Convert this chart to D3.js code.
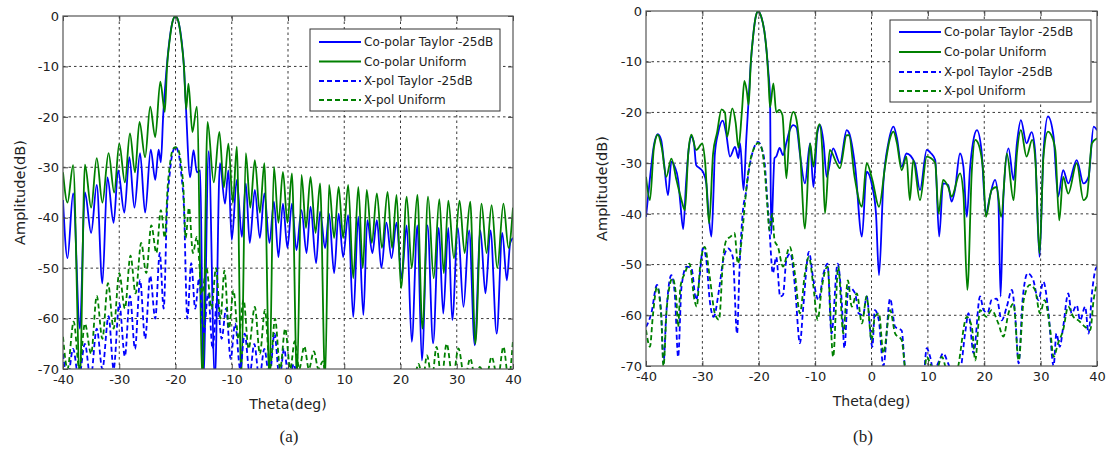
<!DOCTYPE html>
<html>
<head>
<meta charset="utf-8">
<script src="https://cdn.jsdelivr.net/npm/d3@7"></script>
<style>
    body { margin: 0; background: #fff; }
    svg { display: block; }
    text { font-family: "DejaVu Sans", sans-serif; fill: #222; }
</style>
</head>
<body>
<svg id="chart" width="1107" height="451"></svg>
<script>
// ---- data: [theta (deg), amplitude (dB)] ----

const thetaTicks = [-40, -30, -20, -10, 0, 10, 20, 30, 40];
const ampTicks = [0, -10, -20, -30, -40, -50, -60, -70];
const legendLabels = ['Co-polar Taylor -25dB', 'Co-polar Uniform', 'X-pol Taylor -25dB', 'X-pol Uniform'];

// panel (a)
const aCoTaylor = [
    [-40, -36.5], [-39.2, -48], [-38.2, -35.2], [-37.0, -62], [-36.1, -35], [-35.0, -43], [-34.0, -33.5],
    [-33.0, -53], [-32.1, -32], [-31.0, -41], [-30.2, -30.6], [-29.1, -39], [-28.2, -28], [-27.3, -38],
    [-26.3, -27.2], [-25.4, -39], [-24.4, -26.5], [-23.6, -32.5], [-23.0, -26.5], [-22.6, -29], [-22.2, -20],
    [-21.7, -12], [-21.2, -6], [-20.7, -2], [-20.0, 0], [-19.4, -1.5], [-18.9, -5], [-18.5, -10],
    [-18.2, -16.7], [-17.4, -32], [-16.8, -26.6], [-16.2, -31], [-15.6, -30.6], [-15.05, -72], [-14.1, -26.8],
    [-13.0, -72], [-12.1, -29.2], [-11.2, -37.2], [-10.6, -30.6], [-10.0, -44.4], [-9.1, -32.5], [-8.2, -43.8],
    [-7.5, -33.2], [-6.8, -45], [-5.9, -34.5], [-5.0, -44], [-4.2, -35.2], [-3.3, -45], [-2.5, -36.8],
    [-1.7, -47.8], [-0.9, -37.2], [-0.1, -46], [0.7, -37.2], [1.5, -46.4], [2.4, -38.5], [3.3, -47],
    [4.0, -37.8], [5.0, -49], [5.7, -38.8], [6.6, -46], [7.3, -39.2], [8.2, -51], [9.0, -39.2], [9.8, -47.8],
    [10.7, -39.5], [11.6, -59.7], [12.5, -39.8], [13.4, -59.3], [14.1, -40.5], [15.0, -47], [15.8, -40.5],
    [16.6, -50], [17.5, -41], [18.4, -48], [19.3, -41], [20.2, -52], [21.1, -41.5], [22.0, -64.6],
    [23.0, -41.5], [23.8, -68.3], [24.8, -41.5], [25.8, -64.9], [26.8, -42], [27.6, -59], [28.5, -42],
    [29.2, -60.3], [30.2, -42], [31.2, -57.7], [32.2, -42.5], [33.2, -65.3], [34.2, -42.5], [35.1, -55],
    [36.0, -42.5], [37.1, -63], [38.1, -43], [38.9, -52.4], [39.5, -45], [40, -44]
];
const aCoUniform = [
    [-40, -31], [-39.2, -37], [-38.2, -29.6], [-37.0, -72], [-36.1, -29.5], [-35.0, -38], [-34.0, -28.2],
    [-33.0, -37], [-31.9, -27.2], [-30.9, -35], [-30.0, -25.3], [-29.0, -33], [-28.1, -23.3], [-27.2, -31],
    [-26.4, -21], [-25.4, -28], [-24.5, -18], [-23.6, -24], [-22.7, -13], [-21.9, -19], [-21.5, -10],
    [-21.0, -4.5], [-20.5, -1], [-20.0, 0], [-19.5, -1], [-19.0, -4.5], [-18.5, -10], [-18.1, -18.5],
    [-17.7, -13.4], [-17.0, -23], [-16.2, -18], [-15.2, -72], [-14.3, -21], [-13.2, -33], [-12.2, -23],
    [-11.4, -34], [-10.6, -25.3], [-9.8, -37], [-9.1, -25.9], [-8.3, -72], [-7.5, -27.2], [-6.7, -38],
    [-5.9, -28.6], [-5.0, -39], [-4.2, -29.2], [-3.3, -72], [-2.5, -29.9], [-1.7, -41], [-0.9, -30.9],
    [-0.1, -41], [0.7, -31.2], [1.6, -72], [2.4, -31.5], [3.2, -42], [4.0, -31.9], [4.9, -43], [5.7, -33.2],
    [6.6, -72], [7.3, -33.5], [8.2, -44], [9.0, -33.9], [9.8, -44], [10.7, -33.5], [11.6, -52], [12.5, -33.9],
    [13.3, -50], [14.0, -34.5], [14.9, -45], [15.8, -35.2], [16.7, -46], [17.7, -34.9], [18.5, -46],
    [19.3, -35.5], [20.1, -54], [21.1, -35.8], [22.0, -50], [23.0, -35.5], [23.9, -62], [24.9, -35.8],
    [25.9, -52], [26.9, -36.3], [27.7, -51], [28.5, -36.6], [29.5, -48], [30.5, -36.6], [31.4, -47],
    [32.4, -36.8], [33.3, -65], [34.4, -37.2], [35.3, -47], [36.2, -37.5], [37.2, -50], [38.3, -37.2],
    [39.2, -46], [40, -38]
];
const aXTaylor = [
    [-40, -67], [-39.2, -72], [-38.2, -66], [-37.2, -72], [-36.1, -65], [-35.1, -72], [-34.0, -62],
    [-33.0, -70], [-31.9, -59.5], [-31.0, -70], [-30.0, -57], [-29.0, -67.5], [-28.1, -55.5], [-27.2, -66],
    [-26.3, -52.4], [-25.4, -64], [-24.5, -51.5], [-23.6, -60], [-22.8, -47], [-22.1, -58], [-21.5, -38],
    [-21.0, -31], [-20.5, -27], [-20.0, -26], [-19.5, -27], [-19.0, -31], [-18.5, -38], [-17.9, -60],
    [-17.2, -49], [-16.5, -58], [-15.8, -52], [-15.0, -63], [-14.2, -55], [-13.4, -66], [-12.6, -56],
    [-11.8, -64], [-11.0, -58], [-10.2, -68], [-9.4, -61], [-8.5, -70], [-7.7, -63], [-6.8, -71],
    [-6.0, -65], [-5.1, -72], [-4.2, -66], [-3.3, -72], [-2.4, -63], [-1.5, -72], [-0.7, -66], [0.2, -73],
    [1.0, -69], [2.0, -75], [5.0, -80], [40, -80]
];
const aXUniform = [
    [-40, -63.6], [-39.2, -70], [-38.1, -60.6], [-37.1, -70], [-36.1, -61], [-35.0, -67], [-34.0, -55.5],
    [-33.0, -64], [-32.0, -53], [-31.0, -62], [-30.0, -51], [-29.0, -58], [-28.0, -47.5], [-27.1, -55],
    [-26.1, -45], [-25.2, -51], [-24.3, -41.5], [-23.4, -47], [-22.6, -38.5], [-21.9, -44], [-21.4, -34],
    [-21.0, -29.5], [-20.5, -26.5], [-20.0, -26], [-19.5, -26.5], [-19.0, -29.5], [-18.6, -34], [-18.2, -44],
    [-17.6, -38], [-16.9, -47], [-16.2, -43.8], [-15.3, -55], [-14.5, -50], [-13.6, -58], [-12.8, -50],
    [-12.0, -60], [-11.3, -50.5], [-10.5, -62], [-9.7, -54.4], [-8.8, -64], [-7.9, -56.3], [-7.0, -66],
    [-5.9, -57.7], [-5.0, -67], [-4.1, -58.3], [-3.2, -70], [-2.3, -60], [-1.4, -70], [-0.5, -62],
    [0.4, -70], [1.2, -64.5], [2.0, -70], [2.9, -65.5], [3.7, -70], [4.6, -66.5], [5.4, -70], [6.2, -68.5],
    [7.0, -75], [10, -80], [20, -80], [22.5, -72], [23.2, -69], [24.0, -72], [24.7, -67.3], [25.6, -72],
    [26.4, -65.6], [27.3, -72], [28.2, -65], [29.3, -72], [30.3, -65.9], [31.4, -72], [32.4, -67.9],
    [33.3, -72], [34.1, -69.6], [35.2, -72], [36.2, -67.6], [37.3, -72], [38.3, -65.6], [39.2, -72],
    [40, -64.3]
];

// panel (b)
const bCoTaylor = [
    [-40, -40.6], [-39.3, -33], [-38.6, -26.5], [-37.9, -24.3], [-37.3, -25.5], [-36.8, -30], [-36.1, -36.3],
    [-35.5, -29.7], [-34.9, -30.7], [-34.3, -33.3], [-33.9, -38], [-33.4, -43], [-32.9, -34], [-32.4, -27],
    [-31.95, -24.8], [-31.5, -26], [-31.1, -30.4], [-30.5, -31], [-29.9, -31.7], [-29.3, -34], [-28.9, -40],
    [-28.4, -44.5], [-28.0, -35], [-27.8, -28.4], [-27.2, -24], [-26.4, -21.6], [-25.8, -24], [-25.1, -28.7],
    [-24.2, -26.8], [-23.6, -29], [-23.3, -26.1], [-22.7, -35.3], [-22.2, -25], [-21.8, -17.6], [-21.4, -10],
    [-21.0, -5], [-20.6, -1.5], [-20.1, 0], [-19.6, -1], [-19.0, -4], [-18.6, -8], [-18.3, -12], [-18.0, -17],
    [-17.8, -44], [-17.2, -29], [-16.9, -28.7], [-16.3, -27], [-15.7, -28.4], [-15.1, -26], [-14.5, -23.5],
    [-13.85, -22.5], [-13.3, -23], [-12.7, -28.1], [-11.8, -34], [-10.9, -26.1], [-10.3, -34.7], [-9.6, -24],
    [-9.1, -22.5], [-8.5, -26], [-7.95, -32.7], [-6.8, -27.1], [-5.6, -30], [-4.4, -23.5], [-4.0, -24],
    [-2.9, -30.7], [-1.7, -44.5], [-0.86, -31.7], [0.15, -34.7], [0.8, -40], [1.33, -52.1], [2.1, -34],
    [3.0, -26], [3.9, -22.8], [4.5, -25], [5.35, -30.7], [6.2, -28.1], [7.7, -30], [8.6, -35.3], [9.8, -27.4],
    [10.5, -28], [11.3, -29.4], [12.0, -44.5], [12.7, -34], [13.6, -34.3], [14.2, -37.6], [14.8, -35.3],
    [15.7, -28.1], [16.3, -30.7], [16.9, -40.6], [17.5, -30.7], [18.0, -26], [18.7, -23.5], [19.5, -27.4],
    [20.3, -39.9], [21.0, -36.6], [21.9, -33.3], [22.5, -37.3], [22.9, -56.3], [23.4, -36.6], [24.3, -27.1],
    [25.2, -33.3], [25.8, -26], [26.5, -21.5], [27.5, -26.1], [28.4, -23.9], [29.0, -27.4], [29.8, -48.5],
    [30.5, -28.1], [31.3, -20.8], [32.3, -24.8], [33.1, -36.6], [34.0, -31.4], [34.9, -34], [36.4, -29.4],
    [37.6, -34], [38.5, -32.7], [39.4, -22.8], [40, -23.5]
];
const bCoUniform = [
    [-40, -32.7], [-39.3, -37.3], [-38.6, -27], [-37.9, -24.4], [-37.2, -27], [-36.4, -32.7], [-35.5, -29.1],
    [-34.6, -33.3], [-33.7, -37.3], [-33.1, -39.3], [-32.5, -28], [-31.95, -24.4], [-31.1, -27.4],
    [-30.0, -26.1], [-29.5, -30], [-28.8, -41.9], [-28.1, -28.1], [-27.4, -24], [-26.6, -19.4], [-26.0, -20],
    [-25.6, -24.8], [-24.7, -19.2], [-24.1, -22], [-23.6, -27], [-23.0, -20], [-22.55, -13.8], [-22.1, -16],
    [-21.8, -18.5], [-21.4, -10], [-21.0, -5], [-20.6, -1.5], [-20.1, 0], [-19.6, -1], [-19.0, -4],
    [-18.6, -8], [-18.3, -13], [-18.0, -19], [-17.4, -14.3], [-16.9, -20], [-16.4, -19.5], [-15.8, -20.5],
    [-15.1, -33], [-14.5, -23], [-13.85, -19.9], [-13.3, -21.5], [-12.7, -27.4], [-11.8, -42.9],
    [-10.9, -26.1], [-10.3, -30.7], [-9.6, -23.5], [-9.2, -22.3], [-8.7, -28], [-8.25, -39.9], [-7.4, -27.4],
    [-6.2, -30], [-5.6, -31], [-4.4, -24.5], [-4.0, -24.5], [-3.0, -32.7], [-1.7, -38.6], [-0.86, -30],
    [0.15, -33.3], [1.33, -38.6], [2.4, -30.7], [3.2, -25.5], [3.9, -23.8], [4.5, -26], [5.35, -31.4],
    [6.2, -28.7], [6.8, -37.3], [7.4, -29.4], [8.6, -37.3], [9.8, -28.7], [10.5, -29], [11.3, -30],
    [11.9, -39.9], [12.7, -33.3], [13.6, -34.7], [14.2, -36.6], [15.7, -32], [16.3, -36], [17.0, -55],
    [17.8, -31.4], [18.4, -25.4], [18.8, -25.8], [19.8, -31.4], [20.3, -40.6], [21.3, -35.3], [22.2, -34.7],
    [23.0, -40.6], [24.0, -28.1], [25.2, -37.3], [25.8, -28], [26.5, -23.5], [27.5, -28.7], [28.5, -25.4],
    [29.1, -30], [29.8, -47.8], [30.5, -28.7], [31.3, -23.8], [31.7, -24.1], [32.6, -27.4], [33.3, -41.3],
    [34.0, -32.7], [34.9, -36], [36.4, -30], [37.6, -37.3], [38.2, -36.6], [39.1, -26.1], [40, -25.1]
];
const bXTaylor = [
    [-40, -62.3], [-39.05, -59.6], [-38.05, -54.0], [-37.3, -59.6], [-36.9, -69.5], [-36.4, -59.6],
    [-35.5, -52.1], [-34.9, -55.7], [-34.3, -68.2], [-33.7, -54.4], [-32.8, -50.4], [-31.95, -50.7],
    [-31.1, -57], [-30.5, -52.4], [-29.9, -46.8], [-29.3, -49.1], [-28.7, -57], [-28.0, -60.3], [-27.05, -55],
    [-26.3, -49.1], [-25.45, -46.8], [-24.6, -48.5], [-23.85, -63.6], [-23.4, -50.4], [-22.8, -39.3],
    [-22.3, -36], [-21.7, -31], [-21.0, -27.5], [-20.1, -25.8], [-19.5, -27], [-18.95, -30], [-18.5, -37],
    [-18.1, -43.2], [-17.5, -51.7], [-16.9, -48.5], [-16.2, -56.3], [-15.7, -56], [-15.1, -49.1],
    [-14.4, -47.8], [-13.57, -54.4], [-12.7, -65.5], [-12.1, -58.3], [-11.1, -47.5], [-10.3, -53.1],
    [-9.4, -57], [-8.5, -51.7], [-7.8, -49.8], [-7.1, -63.6], [-6.0, -49.8], [-5.3, -57], [-4.8, -66.5],
    [-4.1, -54.4], [-2.9, -55.7], [-2.3, -59.6], [-1.5, -60], [-0.86, -56.3], [0.15, -66.2], [0.6, -59],
    [1.3, -61], [2.1, -70], [3.3, -56.7], [4.2, -62.3], [5.35, -63], [5.9, -70], [6.5, -75], [9.0, -75],
    [9.8, -66.5], [10.4, -68.2], [11.0, -71], [12.0, -69], [12.7, -67.5], [13.6, -69.5], [14.5, -72],
    [15.7, -71], [16.6, -63.6], [17.2, -59.6], [18.1, -67.5], [19.25, -56.3], [19.9, -59], [20.6, -59.5],
    [21.3, -57], [22.2, -56.7], [23.1, -61], [24.0, -58.3], [24.9, -55], [25.5, -60.3], [26.1, -69.5],
    [26.8, -57], [27.7, -51.7], [28.7, -53.1], [29.6, -57], [30.5, -53.4], [31.4, -59.6], [32.3, -70],
    [32.8, -63.6], [33.4, -66.2], [34.0, -62.3], [34.9, -55.7], [35.5, -59.6], [36.4, -58], [37.0, -61],
    [37.9, -58.3], [38.5, -63.6], [39.1, -55.7], [39.7, -51.1], [40, -50.4]
];
const bXUniform = [
    [-40, -62.9], [-39.3, -66.2], [-38.8, -60.3], [-38.05, -54.4], [-37.3, -60.3], [-36.9, -70],
    [-36.3, -58.3], [-35.3, -52.7], [-34.6, -57], [-34.3, -62.3], [-33.9, -54.4], [-33.1, -51.7],
    [-32.3, -49.8], [-31.4, -57], [-31.0, -58.3], [-30.4, -50.4], [-29.6, -46.5], [-28.7, -52.4],
    [-27.8, -59.6], [-27.05, -60.9], [-26.3, -48.5], [-25.75, -45.2], [-25.0, -44.5], [-24.3, -43.8],
    [-23.7, -49.8], [-23.1, -45.8], [-22.5, -38.6], [-22.0, -33], [-21.4, -29], [-20.8, -27], [-20.1, -26],
    [-19.5, -27], [-18.9, -32], [-18.5, -38], [-18.1, -43.2], [-17.6, -40], [-17.2, -45.2], [-16.6, -46.5],
    [-15.7, -50.4], [-14.5, -46.5], [-13.6, -51.7], [-12.7, -59.6], [-11.8, -51.7], [-11.1, -48.5],
    [-10.3, -54.4], [-9.55, -60.9], [-8.8, -54.4], [-7.8, -50.4], [-6.8, -68.2], [-5.9, -50.4], [-5.0, -63.6],
    [-4.2, -53.1], [-3.5, -58.3], [-2.6, -55.7], [-1.7, -61.6], [-0.86, -56.3], [0.0, -64.9], [0.6, -60.3],
    [1.33, -59.6], [2.1, -67.5], [3.3, -59], [4.2, -63.6], [5.35, -64.9], [5.9, -70], [6.5, -75], [9.0, -75],
    [9.8, -68.2], [10.4, -69.5], [11.2, -72], [12.5, -68.2], [13.3, -71], [14.5, -75], [15.4, -70],
    [16.9, -60.3], [17.8, -62.3], [18.4, -68.9], [19.25, -59], [20.4, -60.3], [21.3, -59], [22.5, -61.6],
    [23.4, -64.2], [24.3, -59.6], [25.2, -57.7], [26.1, -68.9], [27.0, -57], [28.1, -54], [29.0, -55],
    [29.9, -59.6], [30.7, -57], [31.7, -62.9], [32.3, -68.2], [33.1, -65.5], [34.0, -62.9], [34.9, -58.3],
    [35.8, -60.3], [36.7, -61], [37.9, -62.3], [38.8, -62.9], [39.4, -57], [40, -53.7]
];

// ---- styles ----
const seriesStyle = [
    {color: '#0000ff', dash: null},
    {color: '#008000', dash: null},
    {color: '#0000ff', dash: '5,3'},
    {color: '#008000', dash: '5,3'}
];

const panels = [
    {
        id: 'a', left: 63, right: 513, top: 16, bottom: 369,
        yLabelX: 20, caption: '(a)', captionX: 289,
        legend: {x: 310, y: 29, w: 190, h: 82, rows: [42, 61.5, 81, 100], lineX: 319},
        series: [aCoTaylor, aCoUniform, aXTaylor, aXUniform]
    },
    {
        id: 'b', left: 646, right: 1097, top: 11, bottom: 366,
        yLabelX: 602, caption: '(b)', captionX: 863,
        legend: {x: 890, y: 20, w: 201, h: 82, rows: [32, 52, 72, 91], lineX: 899},
        series: [bCoTaylor, bCoUniform, bXTaylor, bXUniform]
    }
];

const svg = d3.select('#chart');

panels.forEach(p => drawPanel(p));

function drawPanel(p) {
    const x = d3.scaleLinear().domain([-40, 40]).range([p.left, p.right]);
    const y = d3.scaleLinear().domain([-70, 0]).range([p.bottom, p.top]);
    const g = svg.append('g').attr('class', 'panel-' + p.id);

    // clip the traces to the plot box
    g.append('clipPath')
        .attr('id', 'clip-' + p.id)
        .append('rect')
        .attr('x', p.left)
        .attr('y', p.top)
        .attr('width', p.right - p.left)
        .attr('height', p.bottom - p.top);

    // dotted grid
    const grid = g.append('g')
        .attr('stroke', '#222')
        .attr('stroke-width', 0.9)
        .attr('stroke-dasharray', '2.5,3');
    grid.selectAll('.vgrid')
        .data(thetaTicks.slice(1, -1))
        .enter()
        .append('line')
        .attr('x1', d => x(d)).attr('x2', d => x(d))
        .attr('y1', p.top).attr('y2', p.bottom);
    grid.selectAll('.hgrid')
        .data(ampTicks.slice(1, -1))
        .enter()
        .append('line')
        .attr('x1', p.left).attr('x2', p.right)
        .attr('y1', d => y(d)).attr('y2', d => y(d));

    // the traces
    const line = d3.line()
        .x(d => x(d[0]))
        .y(d => y(d[1]))
        .curve(d3.curveMonotoneX);
    g.append('g')
        .attr('clip-path', 'url(#clip-' + p.id + ')')
        .selectAll('path')
        .data(p.series)
        .enter()
        .append('path')
        .attr('d', d => line(d))
        .attr('fill', 'none')
        .attr('stroke', (_, i) => seriesStyle[i].color)
        .attr('stroke-width', 1.8)
        .attr('stroke-linejoin', 'round')
        .attr('stroke-dasharray', (_, i) => seriesStyle[i].dash);

    // axes with inward ticks (matlab look)
    const xAxis = d3.axisBottom(x).tickValues(thetaTicks).tickFormat(d => String(d))
        .tickSizeInner(-5).tickSizeOuter(0).tickPadding(6);
    const yAxis = d3.axisLeft(y).tickValues(ampTicks).tickFormat(d => String(d))
        .tickSizeInner(-5).tickSizeOuter(0).tickPadding(4);
    const styleAxis = sel => {
        sel.select('.domain').remove();
        sel.selectAll('line').attr('stroke', '#444');
        sel.selectAll('text')
            .style('font-family', '"DejaVu Sans", sans-serif')
            .style('font-size', '13px')
            .attr('fill', '#222');
    };
    g.append('g').attr('transform', `translate(0,${p.bottom})`).call(xAxis).call(styleAxis);
    g.append('g').attr('transform', `translate(${p.left},0)`).call(yAxis).call(styleAxis);
    g.append('g').attr('transform', `translate(0,${p.top})`)
        .call(d3.axisTop(x).tickValues(thetaTicks).tickFormat('').tickSizeInner(-5).tickSizeOuter(0))
        .call(styleAxis);
    g.append('g').attr('transform', `translate(${p.right},0)`)
        .call(d3.axisRight(y).tickValues(ampTicks).tickFormat('').tickSizeInner(-5).tickSizeOuter(0))
        .call(styleAxis);

    // the box
    g.append('rect')
        .attr('x', p.left)
        .attr('y', p.top)
        .attr('width', p.right - p.left)
        .attr('height', p.bottom - p.top)
        .attr('fill', 'none')
        .attr('stroke', '#555')
        .attr('stroke-width', 1.2);

    // axis titles
    g.append('text')
        .attr('x', (p.left + p.right) / 2)
        .attr('y', p.bottom + 40)
        .attr('text-anchor', 'middle')
        .style('font-size', '14px')
        .text('Theta(deg)');
    g.append('text')
        .attr('transform', `translate(${p.yLabelX},${(p.top + p.bottom) / 2}) rotate(-90)`)
        .attr('text-anchor', 'middle')
        .attr('dy', '0.35em')
        .style('font-size', '14.5px')
        .text('Amplitude(dB)');

    // caption
    g.append('text')
        .attr('x', p.captionX)
        .attr('y', 442)
        .attr('text-anchor', 'middle')
        .style('font-family', '"Liberation Serif", serif')
        .style('font-size', '17px')
        .text(p.caption);

    // legend
    const lg = p.legend;
    const legend = g.append('g');
    legend.append('rect')
        .attr('x', lg.x).attr('y', lg.y)
        .attr('width', lg.w).attr('height', lg.h)
        .attr('fill', '#fff')
        .attr('stroke', '#333')
        .attr('stroke-width', 1);
    const rows = legend.selectAll('.row')
        .data(legendLabels)
        .enter()
        .append('g');
    rows.append('line')
        .attr('x1', lg.lineX).attr('x2', lg.lineX + 42)
        .attr('y1', (_, i) => lg.rows[i]).attr('y2', (_, i) => lg.rows[i])
        .attr('stroke', (_, i) => seriesStyle[i].color)
        .attr('stroke-width', 1.8)
        .attr('stroke-dasharray', (_, i) => seriesStyle[i].dash);
    rows.append('text')
        .attr('x', lg.lineX + 45)
        .attr('y', (_, i) => lg.rows[i])
        .attr('dy', '0.36em')
        .style('font-size', '12px')
        .text(d => d);
}
</script>
</body>
</html>
